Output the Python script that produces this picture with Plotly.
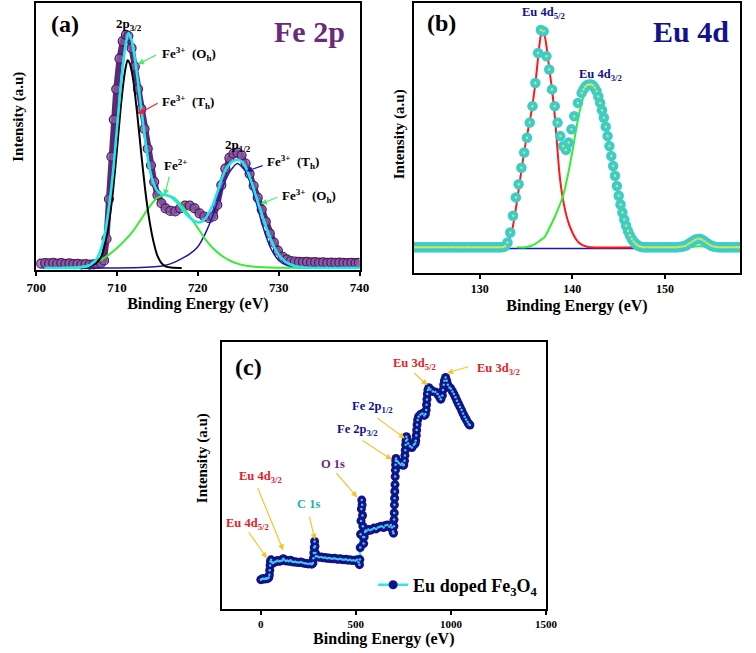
import plotly.graph_objects as go

FONT = "Liberation Serif, Times New Roman, serif"

# ---------------- Panel (a): Fe 2p ----------------
fe_raw_x = [700.6, 701.1, 701.6, 702.1, 702.6, 703.1, 703.6, 704.1, 704.6, 705.1,
            705.6, 706.1, 706.6, 707.1, 707.6, 708.0, 708.4, 708.7, 709.0, 709.3,
            709.6, 709.9, 710.3, 710.7, 711.1, 711.4, 711.8, 712.2, 712.6, 713.0,
            713.4, 713.8, 714.2, 714.6, 715.0, 715.5, 716.0, 716.6, 717.2, 717.8,
            718.4, 719.0, 719.6, 720.2, 720.8, 721.4, 721.9, 722.4, 722.9, 723.4,
            723.9, 724.4, 724.9, 725.4, 725.9, 726.4, 726.9, 727.4, 727.9, 728.4,
            728.9, 729.4, 729.9, 730.5, 731.0, 731.5, 732.0, 732.5, 733.0, 733.5,
            734.0, 734.5, 735.0, 735.5, 736.0, 736.5, 737.0, 737.5, 738.0, 738.5,
            739.0, 739.5, 739.9]
fe_raw_y = [1.6, 1.8, 1.7, 1.9, 1.6, 1.8, 1.5, 1.7, 1.4, 1.5,
            1.3, 1.4, 1.2, 1.3, 1.5, 1.8, 2.8, 11, 26, 42,
            56, 67.5, 79, 85.6, 88, 87.5, 83, 76, 67.5, 60,
            52.5, 45, 38.75, 32.5, 27.5, 24.4, 22.5, 21.5, 21.3, 22.5,
            23.5, 23.5, 22.5, 20.6, 19.4, 18.75, 19.4, 23.75, 31.25, 37.5,
            41.5, 43.1, 43.5, 42.5, 39.4, 35.5, 31, 26.5, 22, 17.5,
            13, 9.5, 6.5, 4.2, 3.2, 2.6, 2.4, 2.3, 2.2, 2.3,
            2.1, 2.2, 2.0, 2.1, 1.9, 2.0, 1.9, 2.0, 1.9, 1.8,
            1.9, 1.8, 1.9]

fe_env_x = [701, 704, 705.5, 706.5, 707, 707.5, 708, 708.5, 709, 709.5,
            710, 710.5, 711, 711.4, 711.8, 712.2, 712.6, 713, 713.5, 714,
            714.5, 715, 715.5, 716, 716.5, 717, 717.5, 718, 718.5, 719,
            719.5, 720, 720.5, 721, 721.5, 722, 722.5, 723, 723.5, 724,
            724.5, 724.9, 725.5, 726, 726.5, 727, 727.5, 728, 728.5, 729,
            729.5, 730, 730.5, 731, 732, 733, 735, 740]
fe_env_y = [0, 0, 0.2, 0.8, 1.8, 3.5, 7, 13, 23, 36,
            53, 70, 83, 88.7, 86, 79, 70, 60, 48, 38,
            32, 29, 28, 27.5, 27, 26, 24.5, 22.5, 20.5, 19,
            17.8, 17.2, 17.5, 19, 21.5, 25, 29.5, 34, 37.5, 39.5,
            40.5, 40.8, 40, 37.5, 33.5, 29, 24, 19.5, 15, 11,
            7.5, 5, 3.2, 2, 0.7, 0.2, 0, 0]

fe_oh_x = [705, 706, 706.5, 707, 707.5, 708, 708.5, 709, 709.5, 710,
           710.5, 711, 711.3, 711.6, 712, 712.5, 713, 713.5, 714, 714.5,
           715, 715.5, 716, 717, 718]
fe_oh_y = [0, 0.1, 0.4, 1, 2, 4, 9, 17, 29, 45,
           62, 74.5, 78.4, 77, 71, 58, 43, 29, 18, 10,
           4.5, 1.8, 0.6, 0.05, 0]

fe2_x = [703, 705, 706, 707, 708, 709, 710, 711, 712, 713,
         714, 715, 716, 717, 718, 719, 720, 721, 722, 723,
         724, 725, 726, 727, 728, 730, 733, 740]
fe2_y = [0, 0.2, 0.6, 1.5, 3, 5, 7.5, 10.5, 14, 18.5,
         23, 26.5, 27.5, 26.5, 23.5, 19.5, 15, 10.5, 7, 4.5,
         2.7, 1.5, 0.8, 0.4, 0.2, 0.05, 0, 0]

fe_th_x = [700.8, 710, 713, 715, 716, 717, 718, 719, 720, 721,
           722, 723, 724, 724.9, 726, 727, 728, 729, 730, 731,
           732, 734, 740]
fe_th_y = [0, 0, 0.1, 0.5, 1, 2, 3.5, 5.3, 8, 13.5,
           21, 30, 36.5, 39.4, 36, 27, 16, 7.5, 2.8, 1,
           0.3, 0, 0]

# ---------------- Panel (b): Eu 4d ----------------
eu_raw_x = [123.0, 123.25, 123.5, 123.75, 124.0, 124.25, 124.5, 124.75, 125.0, 125.25,
            125.5, 125.75, 126.0, 126.25, 126.5, 126.75, 127.0, 127.25, 127.5, 127.75,
            128.0, 128.25, 128.5, 128.75, 129.0, 129.25, 129.5, 129.75, 130.0, 130.25,
            130.5, 130.75, 131.0, 131.25, 131.5, 131.75, 132.0, 132.25, 132.5, 132.75,
            133.0, 133.3, 133.6, 133.9, 134.2, 134.5, 134.8, 135.1, 135.4, 135.7,
            136.0, 136.3, 136.6, 136.9, 137.2, 137.5, 137.8, 138.1, 138.4, 138.7,
            139.0, 139.3, 139.6, 139.9, 140.2, 140.6, 141.0, 141.2, 141.4, 141.6,
            141.8, 142.0, 142.2, 142.4, 142.6, 142.8, 143.0, 143.2, 143.4, 143.6,
            143.8, 144.0, 144.2, 144.4, 144.6, 144.8, 145.0, 145.2, 145.4, 145.6,
            145.8, 146.0, 146.2, 146.4, 146.6, 146.8, 147.0, 147.25, 147.5, 147.75,
            148.0, 148.25, 148.5, 148.75, 149.0, 149.25, 149.5, 149.75, 150.0, 150.25,
            150.5, 150.75, 151.0, 151.25, 151.5, 151.75, 152.0, 152.25, 152.5, 152.75,
            153.0, 153.25, 153.5, 153.75, 154.0, 154.25, 154.5, 154.75, 155.0, 155.25,
            155.5, 155.75, 156.0, 156.25, 156.5, 156.75, 157.0, 157.25, 157.5, 157.75,
            158.0]
eu_raw_y = [9.5, 9.5, 9.5, 9.5, 9.5, 9.5, 9.5, 9.5, 9.5, 9.5,
            9.5, 9.5, 9.5, 9.5, 9.5, 9.5, 9.5, 9.5, 9.5, 9.5,
            9.5, 9.5, 9.5, 9.5, 9.5, 9.5, 9.5, 9.5, 9.5, 9.5,
            9.5, 9.5, 9.5, 9.5, 9.5, 9.5, 9.5, 9.5, 9.6, 9.9,
            11.3, 15, 21.2, 28, 32.9, 39, 44.6, 50.1, 55.7, 61.8,
            70.4, 81.5, 90, 89.5, 80.3, 75.4, 68, 61.8, 55.7, 50.7,
            47, 45.6, 48.3, 53.2, 58.1, 63, 66.7, 68, 69, 69.6,
            69.8, 69.8, 69.5, 68.6, 67.4, 65.4, 63, 60.3, 57.5, 54.2,
            50.7, 47, 43.3, 39.6, 36, 32.2, 28.6, 25.4, 22.4, 19.8,
            17.5, 15.6, 14, 12.7, 11.7, 10.9, 10.3, 9.9, 9.6, 9.5,
            9.5, 9.5, 9.5, 9.5, 9.5, 9.5, 9.5, 9.5, 9.5, 9.5,
            9.5, 9.5, 9.5, 9.5, 9.6, 9.7, 9.9, 10.2, 10.7, 11.2,
            11.8, 12.3, 12.6, 12.7, 12.3, 11.8, 11.1, 10.6, 10.1, 9.8,
            9.6, 9.5, 9.5, 9.5, 9.5, 9.5, 9.5, 9.5, 9.5, 9.5,
            9.5]

eu52_x = [132, 132.5, 133, 133.5, 134, 134.5, 135, 135.5, 136, 136.5,
          136.7, 137, 137.5, 138, 138.3, 138.6, 139, 139.5, 140, 140.5,
          141, 141.5, 142, 147.5]
eu52_y = [9.6, 10, 11.5, 16, 26, 38, 49, 58, 70, 86,
          89.5, 88, 76, 62, 50, 37, 27, 19.5, 15, 12,
          10.5, 9.8, 9.5, 9.5]

eu32_x = [134, 135, 135.5, 136, 136.5, 137, 137.5, 138, 138.5, 139,
          139.5, 140, 140.5, 141, 141.5, 142, 142.5, 143, 143.5, 144,
          144.5, 145, 145.5, 146, 146.5, 147, 148, 150, 152, 153,
          153.7, 154.5, 155.5]
eu32_y = [9.5, 9.5, 10, 10.8, 12, 13.3, 16.5, 20, 24, 28.6,
          36, 45, 55, 63, 68, 69.5, 68, 63, 56, 47,
          38, 29, 22, 16.5, 13, 11, 9.8, 9.5, 9.5, 9.7,
          9.9, 9.7, 9.5]

eu_base_x = [132.8, 147.5]
eu_base_y = [9.1, 9.1]

# ---------------- Panel (c): survey ----------------
sv_x = [0, 6, 12, 18, 24, 30, 36, 42, 45, 47,
        49, 51, 54, 58, 64, 72, 80, 88, 96, 104,
        112, 118, 124, 132, 140, 148, 156, 164, 172, 180,
        190, 200, 210, 220, 230, 240, 250, 260, 268, 274,
        277, 279, 281, 283, 285, 287, 290, 298, 308, 318,
        328, 338, 348, 358, 368, 378, 388, 398, 408, 418,
        428, 438, 448, 458, 468, 478, 488, 498, 506, 514,
        519, 521, 523, 525, 527, 529, 531, 533, 535, 537,
        539, 541, 544, 548, 552, 556, 566, 576, 586, 596,
        606, 616, 626, 636, 646, 656, 666, 676, 684, 690,
        695, 698, 700, 701, 702, 703, 704, 705, 706, 707,
        708, 709, 710, 711, 714, 720, 728, 736, 744, 750,
        752, 756, 758, 760, 762, 764, 766, 770, 775, 785,
        795, 805, 812, 815, 818, 820, 822, 825, 830, 840,
        850, 860, 866, 870, 872, 874, 876, 879, 884, 892,
        905, 918, 930, 940, 947, 955, 958, 962, 966, 972,
        978, 984, 992, 1000, 1008, 1016, 1024, 1032, 1040, 1048,
        1056, 1064, 1072, 1080, 1088, 1095, 1100]
sv_y = [11, 11.2, 11.3, 11.2, 11.4, 11.3, 11.5, 11.8, 12.8, 14.5,
        16.3, 17.8, 18.4, 17.5, 17.2, 17.6, 17.8, 18.2, 17.9, 18,
        18.2, 18.8, 18.4, 18, 18.2, 17.9, 18.3, 17.8, 17.6, 17.7,
        17.5, 17.4, 17.6, 17.3, 17.1, 17, 16.9, 17, 16.8, 17.2,
        19, 21, 23, 25.3, 23.5, 21, 19.8, 19.7, 19.4, 19.5,
        19.2, 19.3, 19, 19.1, 18.9, 18.8, 19, 18.7, 18.6, 18.8,
        18.5, 18.4, 18.6, 18.3, 18.4, 18.2, 18.3, 18.1, 18.4, 17.5,
        16.6, 18.5, 23, 28, 33, 37.5, 40.8, 39, 35, 31,
        27, 24.5, 27, 28.8, 29.4, 29.2, 29.8, 29.5, 29.9, 30.3,
        30, 30.5, 30.8, 31, 30.5, 31.3, 31.5, 30.8, 31.5, 30.5,
        29, 28.4, 31, 33.5, 36, 39, 41.5, 44, 46.6, 49.6,
        52, 54, 55.5, 56.4, 55.5, 55.2, 54.6, 54, 54.5, 53.8,
        54, 55.5, 57.5, 59.5, 61.5, 63, 64.5, 63.5, 62, 61,
        60.5, 61.5, 62, 63, 65, 67, 69, 70.8, 72, 72.8,
        73.2, 72.5, 73, 74.5, 76.5, 78.5, 80.5, 82, 82.9, 82.2,
        81.5, 81.3, 80.5, 79.5, 78.6, 80, 82, 84, 85.5, 86.7,
        85.5, 84, 83, 82.5, 81.5, 80.5, 79.3, 78, 76.8, 75.7,
        74.5, 73.2, 72, 71, 70, 69.2, 68.9]

# colours
PURPLE = "#6a2a7c"
CYAN = "#1ee8ec"
GREEN = "#33ee33"
BLUE = "#1a1aa8"
RED = "#ff1a1a"
NAVY = "#12128a"
GOLD = "#f4c430"

fig = go.Figure()

# (a) raw data: dense band of overlapping circles, fit lines on top
fig.add_trace(go.Scatter(x=fe_raw_x, y=fe_raw_y, mode="lines+markers", xaxis="x", yaxis="y",
                         line=dict(color="#5e2873", width=6),
                         marker=dict(size=9, color="rgba(140,95,165,0.75)",
                                     line=dict(color="#4e1862", width=1.2)),
                         showlegend=False))
for xs, ys, col, w in [(fe_th_x, fe_th_y, BLUE, 1.5), (fe2_x, fe2_y, GREEN, 2),
                       (fe_oh_x, fe_oh_y, "black", 2), (fe_env_x, fe_env_y, CYAN, 2.6)]:
    fig.add_trace(go.Scatter(x=xs, y=ys, mode="lines", xaxis="x", yaxis="y",
                             line=dict(color=col, width=w, shape="spline", smoothing=0.6),
                             showlegend=False))

# (b) fit lines below markers
fig.add_trace(go.Scatter(x=eu_base_x, y=eu_base_y, mode="lines", xaxis="x2", yaxis="y2",
                         line=dict(color=BLUE, width=1.5), showlegend=False))
for xs, ys, col in [(eu52_x, eu52_y, RED), (eu32_x, eu32_y, GREEN)]:
    fig.add_trace(go.Scatter(x=xs, y=ys, mode="lines", xaxis="x2", yaxis="y2",
                             line=dict(color=col, width=2, shape="spline", smoothing=0.6),
                             showlegend=False))
fig.add_trace(go.Scatter(x=eu_raw_x, y=eu_raw_y, mode="markers", xaxis="x2", yaxis="y2",
                         marker=dict(size=10.5, color="#3ccccc", line=dict(width=0)),
                         showlegend=False))
fig.add_trace(go.Scatter(x=eu_raw_x, y=eu_raw_y, mode="markers", xaxis="x2", yaxis="y2",
                         marker=dict(size=2.5, color="#d6e84a", line=dict(width=0)),
                         showlegend=False))

# (c) survey
fig.add_trace(go.Scatter(x=sv_x, y=sv_y, mode="lines+markers", xaxis="x3", yaxis="y3",
                         name="Eu doped Fe<sub>3</sub>O<sub>4</sub>",
                         line=dict(color="#2ee6f0", width=2.5),
                         marker=dict(size=9, color=NAVY, line=dict(width=0)),
                         showlegend=True))
fig.add_trace(go.Scatter(x=sv_x, y=sv_y, mode="markers", xaxis="x3", yaxis="y3",
                         marker=dict(size=2.5, color="#45c8e6", line=dict(width=0)),
                         showlegend=False))

ann = []

def txt(x, y, text, ref, size=12, color="black", xanchor="center"):
    ann.append(dict(x=x, y=y, xref="x" + ref, yref="y" + ref, text="<b>" + text + "</b>",
                    showarrow=False, xanchor=xanchor, yanchor="middle",
                    font=dict(family=FONT, size=size, color=color)))

def arrow(x0, y0, x1, y1, ref, color):
    ann.append(dict(x=x1, y=y1, ax=x0, ay=y0, xref="x" + ref, yref="y" + ref,
                    axref="x" + ref, ayref="y" + ref, text="", showarrow=True,
                    arrowhead=2, arrowsize=1, arrowwidth=1.2, arrowcolor=color, standoff=0))

# (a) texts
txt(703.6, 91.9, "(a)", "", size=24)
txt(738.4, 89.4, "Fe 2p", "", size=30, color=PURPLE, xanchor="right")
txt(711.5, 91.9, "2p<sub>3/2</sub>", "", size=13)
txt(725.0, 46.3, "2p<sub>1/2</sub>", "", size=13)
txt(715.3, 80.6, "Fe<sup>3+</sup>  (O<sub>h</sub>)", "", size=13, xanchor="left")
txt(715.3, 62.5, "Fe<sup>3+</sup>  (T<sub>h</sub>)", "", size=13, xanchor="left")
txt(717.2, 38.8, "Fe<sup>2+</sup>", "", size=13)
txt(728.3, 40.0, "Fe<sup>3+</sup>  (T<sub>h</sub>)", "", size=13, xanchor="left")
txt(730.2, 27.3, "Fe<sup>3+</sup>  (O<sub>h</sub>)", "", size=13, xanchor="left")
arrow(715.0, 80.6, 712.6, 76.9, "", "#44f06a")
arrow(715.2, 62.5, 712.6, 58.1, "", RED)
arrow(716.5, 35.0, 715.9, 27.3, "", "#44f06a")
arrow(728.2, 38.8, 726.0, 36.5, "", BLUE)
arrow(730.0, 26.9, 727.8, 24.1, "", "#44f06a")

# (b) texts
txt(125.9, 92.6, "(b)", "2", size=24)
txt(157.1, 89.5, "Eu 4d", "2", size=30, color=NAVY, xanchor="right")
txt(136.9, 96.3, "Eu 4d<sub>5/2</sub>", "2", size=12.5, color=NAVY)
txt(143.0, 73.5, "Eu 4d<sub>3/2</sub>", "2", size=12.5, color=NAVY)

# (c) texts
RED2 = "#e41e26"
txt(-66.6, 90.7, "(c)", "3", size=24)
txt(809, 91.7, "Eu 3d<sub>5/2</sub>", "3", size=12.5, color=RED2)
txt(1252, 89.7, "Eu 3d<sub>3/2</sub>", "3", size=12.5, color=RED2)
txt(587, 75.7, "Fe 2p<sub>1/2</sub>", "3", size=12.5, color=NAVY)
txt(510, 67.2, "Fe 2p<sub>3/2</sub>", "3", size=12.5, color=NAVY)
txt(382, 54.3, "O 1s", "3", size=12.5, color=PURPLE)
txt(249, 39.4, "C 1s", "3", size=12.5, color="#22b3a8")
txt(-1.7, 49.3, "Eu 4d<sub>3/2</sub>", "3", size=12.5, color=RED2)
txt(-70, 31.9, "Eu 4d<sub>5/2</sub>", "3", size=12.5, color=RED2)
arrow(800, 88.8, 877, 83.8, "3", GOLD)
arrow(1099, 90.9, 980, 88.4, "3", GOLD)
arrow(604, 72.0, 758, 63.9, "3", GOLD)
arrow(527, 63.5, 689, 56.0, "3", GOLD)
arrow(391, 51.4, 507, 41.8, "3", GOLD)
arrow(254, 35.2, 285, 25.9, "3", GOLD)
arrow(-19, 45.8, 118, 21.9, "3", GOLD)
arrow(-70, 29.4, 32, 19.0, "3", GOLD)

# y-axis titles
for xp, yp in [(8, 117), (401, 134), (199, 458)]:
    ann.append(dict(x=xp / 756, y=1 - yp / 653, xref="paper", yref="paper",
                    text="<b>Intensity (a.u)</b>", textangle=-90, showarrow=False,
                    xanchor="center", yanchor="middle",
                    font=dict(family=FONT, size=15, color="black")))

frame = dict(showline=True, linecolor="black", linewidth=2, mirror=True,
             showgrid=False, zeroline=False)
xstyle = dict(frame, ticks="outside", ticklen=4, tickwidth=2, tickcolor="black")
ystyle = dict(frame, ticks="", showticklabels=False)

fig.update_layout(
    width=756, height=653, autosize=False,
    margin=dict(l=0, r=0, t=0, b=0, pad=0),
    paper_bgcolor="white", plot_bgcolor="white",
    font=dict(family=FONT, color="black"),
    xaxis=dict(xstyle, domain=[27 / 756, 360 / 756], range=[700, 740], anchor="y",
               tickvals=[700, 710, 720, 730, 740],
               tickfont=dict(family=FONT, size=13, weight="bold"),
               title=dict(text="<b>Binding Energy (eV)</b>", standoff=2,
                          font=dict(family=FONT, size=16))),
    yaxis=dict(ystyle, domain=[1 - 270 / 653, 1 - 3 / 653], range=[-0.8, 100], anchor="x"),
    xaxis2=dict(xstyle, domain=[416 / 756, 752 / 756], range=[122.9, 158.1], anchor="y2",
                tickvals=[130, 140, 150],
                tickfont=dict(family=FONT, size=12, weight="bold"),
                title=dict(text="<b>Binding Energy (eV)</b>", standoff=4,
                           font=dict(family=FONT, size=16))),
    yaxis2=dict(ystyle, domain=[1 - 273 / 653, 1 - 3 / 653], range=[0, 100], anchor="x2"),
    xaxis3=dict(xstyle, domain=[218 / 756, 552 / 756], range=[-206, 1500], anchor="y3",
                tickvals=[0, 500, 1000, 1500],
                tickfont=dict(family=FONT, size=11, weight="bold"),
                title=dict(text="<b>Binding Energy (eV)</b>", standoff=2,
                           font=dict(family=FONT, size=16))),
    yaxis3=dict(ystyle, domain=[1 - 609 / 653, 1 - 342 / 653], range=[0, 100], anchor="x3"),
    legend=dict(x=374 / 756, y=1 - 585 / 653, xanchor="left", yanchor="middle",
                bgcolor="rgba(0,0,0,0)", borderwidth=0,
                font=dict(family=FONT, size=18, weight="bold")),
    annotations=ann,
)

fig.write_html("out.html", config={"displayModeBar": False},
               post_script="document.body.style.margin='0px';")
